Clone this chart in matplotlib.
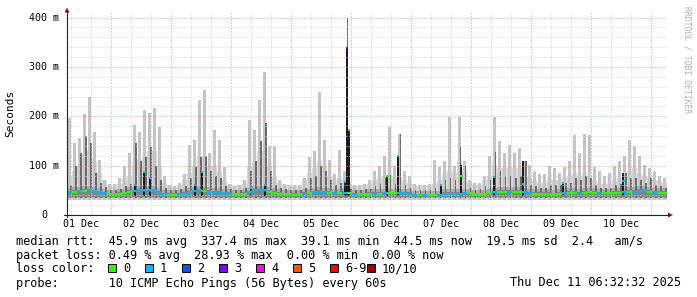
import numpy as np
import matplotlib
matplotlib.use('Agg')
import matplotlib.pyplot as plt
from matplotlib.patches import Rectangle, Polygon
from matplotlib.lines import Line2D
from matplotlib.transforms import blended_transform_factory

# smokeping 10 day view, 2h bins starting 01 Dec 06:32:32, one row per day
med_ms = [
    46, 47, 48, 49, 50, 48, 46, 44, 42, 42, 43, 44,
    47, 48, 49, 50, 50, 49, 45, 42, 41, 41, 42, 43,
    45, 48, 50, 49, 47, 46, 45, 44, 43, 42, 42, 43,
    46, 49, 50, 50, 47, 45, 43, 42, 42, 41, 42, 43,
    44, 46, 47, 46, 45, 44, 44, 45, 44, 42, 42, 42,
    43, 43, 43, 44, 45, 44, 44, 44, 43, 40, 40, 40,
    40, 40, 40, 43, 43, 43, 43, 44, 44, 42, 42, 42,
    44, 46, 47, 47, 47, 47, 47, 46, 44, 43, 43, 43,
    43, 42, 43, 44, 45, 45, 44, 45, 46, 45, 44, 44,
    44, 45, 45, 46, 47, 47, 49, 49, 47, 46, 45, 45,
]
loss_n = [
    1, 0, 1, 0, 1, 1, 1, 1, 0, 0, 0, 0,
    0, 1, 1, 1, 1, 1, 1, 1, 0, 0, 1, 1,
    1, 1, 1, 0, 1, 1, 1, 1, 1, 0, 0, 0,
    1, 1, 1, 1, 0, 0, 0, 0, 0, 0, 0, 1,
    0, 1, 1, 1, 0, 1, 0, 1, 0, 1, 0, 0,
    0, 1, 0, 1, 0, 0, 1, 1, 1, 1, 0, 1,
    0, 0, 1, 1, 1, 1, 1, 1, 0, 0, 0, 0,
    0, 1, 0, 0, 1, 0, 0, 1, 1, 0, 0, 0,
    0, 0, 0, 1, 0, 0, 1, 0, 0, 0, 1, 0,
    0, 0, 0, 1, 0, 1, 1, 1, 0, 1, 0, 0,
]
# top of the dense light smoke
band_ms = [
    80, 90, 100, 120, 130, 110, 85, 70, 58, 57, 62, 75,
    80, 100, 110, 120, 130, 130, 100, 65, 58, 57, 60, 70,
    85, 100, 120, 120, 100, 100, 90, 70, 60, 58, 60, 65,
    100, 110, 130, 130, 100, 80, 65, 60, 58, 58, 58, 70,
    85, 95, 110, 100, 80, 70, 75, 70, 60, 58, 58, 60,
    62, 70, 75, 80, 80, 75, 75, 70, 65, 58, 58, 58,
    58, 62, 70, 85, 90, 85, 110, 90, 65, 60, 60, 70,
    80, 100, 95, 95, 98, 95, 95, 85, 75, 70, 65, 65,
    70, 70, 70, 75, 80, 85, 80, 85, 80, 70, 65, 62,
    65, 70, 75, 80, 90, 95, 85, 80, 75, 70, 68, 65,
]
# highest single ping in the bin
peak_ms = [
    196, 145, 155, 205, 240, 169, 111, 71, 62, 62, 75, 100,
    125, 182, 169, 213, 206, 216, 179, 80, 60, 58, 65, 84,
    142, 152, 233, 253, 125, 172, 152, 98, 62, 58, 60, 70,
    192, 172, 233, 290, 139, 139, 70, 62, 60, 60, 60, 75,
    118, 130, 250, 152, 111, 84, 132, 90, 65, 60, 60, 62,
    70, 90, 100, 120, 179, 100, 165, 90, 80, 62, 60, 60,
    62, 111, 98, 110, 199, 100, 199, 110, 70, 65, 65, 80,
    120, 199, 150, 125, 142, 125, 135, 109, 101, 90, 84, 84,
    100, 95, 85, 98, 110, 162, 125, 165, 162, 98, 90, 80,
    85, 100, 110, 120, 152, 140, 120, 101, 95, 90, 80, 75,
]
# top of the darker inner smoke
dark_ms = [
    60, 100, 125, 160, 145, 85, 65, 56, 50, 50, 52, 58,
    62, 145, 110, 118, 138, 100, 70, 55, 50, 50, 52, 58,
    75, 98, 118, 120, 90, 80, 75, 58, 52, 50, 50, 55,
    90, 110, 150, 186, 90, 60, 55, 52, 50, 50, 50, 55,
    75, 80, 100, 90, 70, 60, 65, 60, 52, 50, 50, 52,
    52, 58, 62, 75, 81, 62, 165, 60, 55, 50, 50, 50,
    50, 55, 60, 70, 75, 70, 138, 100, 55, 50, 52, 58,
    70, 128, 90, 80, 80, 75, 80, 109, 60, 58, 55, 55,
    60, 60, 60, 64, 65, 75, 70, 80, 75, 60, 55, 55,
    55, 60, 62, 85, 75, 75, 70, 65, 75, 60, 58, 55,
]

# narrow black spikes with the median on top (hours since 01 Dec 00:00)
spike_h = [33.7, 37.5, 39.7, 57.7, 60.5, 80.1, 85.7, 117.6, 118.45, 119.3,
           134.7, 139.0, 156.1, 164.3, 177.3, 188.8, 204.9, 229.1]
spike_top = [60, 87, 74, 60, 87, 55, 60, 67, 338, 172,
             81, 120, 60, 101, 78, 109, 64, 85]
spike_med = [60, 87, 74, 60, 87, 55, 60, 67, 338, 172,
             80, 120, 60, 80, 78, 62, 64, 68]
spike_loss = [1, 1, 1, 1, 1, 1, 1, 1, 3, 0,
              0, 1, 1, 0, 1, 1, 1, 1]
tall_h = [118.7]
tall_ms = [400]

day_labels = ['01 Dec', '02 Dec', '03 Dec', '04 Dec', '05 Dec',
              '06 Dec', '07 Dec', '08 Dec', '09 Dec', '10 Dec']
y_ticks = [0, 100, 200, 300, 400]
y_tick_labels = ['0', '100 m', '200 m', '300 m', '400 m']

loss_labels = ['0', '1', '2', '3', '4', '5', '6-9', '10/10']
loss_colors = ['#26ff00', '#00b8ff', '#0059ff', '#7e00ff',
               '#ff00ff', '#ff5500', '#ff0000', '#a10000']

floor_ms = 31
t0 = 6 + 32 / 60 + 32 / 3600
bin_h = 2

W, H = 697, 297
def fx(x):
    return x / W
def fy(y):
    return 1 - y / H

mono = 'DejaVu Sans Mono'
fig = plt.figure(figsize=(W / 100, H / 100), dpi=100)
fig.patch.set_facecolor('white')
ax = fig.add_axes([fx(67), fy(215), 600 / W, 203 / H])
ax.set_xlim(t0, t0 + 240)
ax.set_ylim(0, 411.3)
ax.axis('off')

n = len(med_ms)
left = t0 + bin_h * np.arange(n)
center = left + bin_h / 2
med = np.array(med_ms)

# smoke
ax.bar(left, np.array(band_ms) - floor_ms, bottom=floor_ms, width=bin_h,
       align='edge', color='#d8d8d8', linewidth=0, zorder=1)
ax.bar(center, np.array(peak_ms) - floor_ms, bottom=floor_ms, width=bin_h * 0.55,
       color='#c4c4c4', linewidth=0, zorder=1.2)
ax.bar(center + 0.5, np.array(dark_ms) - 35, bottom=35, width=bin_h * 0.3,
       color='#6a6a6a', linewidth=0, zorder=1.5)
ax.bar(left, med + 9 - 34, bottom=34, width=bin_h, align='edge',
       color='#ababab', linewidth=0, zorder=1.4)
ax.bar(left, med + 3 - 37, bottom=37, width=bin_h, align='edge',
       color='#838383', linewidth=0, zorder=1.6)
ax.bar(tall_h, np.array(tall_ms) - 40, bottom=40, width=0.45,
       color='#6e6e6e', linewidth=0, zorder=2)
ax.bar(spike_h, np.array(spike_top) - 38, bottom=38, width=0.8,
       color='#1c1c1c', linewidth=0, zorder=2.2)

# grid on top of the smoke
minor_kw = dict(color='#cfcfcf', lw=0.72, dashes=(1, 2), zorder=3)
major_kw = dict(color='#e39090', lw=0.72, dashes=(1, 2), zorder=3.1)
for v in range(20, 401, 20):
    ax.axhline(v, **(major_kw if v % 100 == 0 else minor_kw))
for h in range(8, 247, 8):
    if h < t0:
        continue
    ax.axvline(h, **(major_kw if h % 24 == 0 else minor_kw))

# median coloured by loss
ax.hlines(med, left, left + bin_h, colors=[loss_colors[i] for i in loss_n],
          lw=1.5, zorder=4)
ax.hlines(spike_med, np.array(spike_h) - 0.45, np.array(spike_h) + 0.45,
          colors=[loss_colors[i] for i in spike_loss], lw=1.5, zorder=4.2)

# axes, arrows
fig.add_artist(Line2D([fx(67), fx(67)], [fy(217), fy(11)], color='#222222', lw=0.8))
fig.add_artist(Line2D([fx(64), fx(669)], [fy(215), fy(215)], color='#222222', lw=0.8))
fig.add_artist(Polygon([(fx(64.5), fy(12.5)), (fx(69.5), fy(12.5)), (fx(67), fy(7.5))],
                       closed=True, color='#8b1c1c', lw=0))
fig.add_artist(Polygon([(fx(668), fy(212.5)), (fx(668), fy(217.5)), (fx(673), fy(215))],
                       closed=True, color='#8b1c1c', lw=0))

ytr = blended_transform_factory(fig.transFigure, ax.transData)
for v, lab in zip(y_ticks, y_tick_labels):
    ax.text(fx(44), v, lab, transform=ytr, ha='center', va='center',
            family=mono, fontsize=7.2)
xtr = blended_transform_factory(ax.transData, fig.transFigure)
for i, lab in enumerate(day_labels):
    ax.text(12 + 24 * i, fy(224), lab, transform=xtr, ha='center', va='center',
            family=mono, fontsize=7.2)

fig.text(fx(10), fy(113), 'Seconds', rotation=90, ha='center', va='center',
         family=mono, fontsize=8)
fig.text(fx(687), fy(60), 'RRDTOOL / TOBI OETIKER', rotation=-90, ha='center',
         va='center', family=mono, fontsize=5.8, color='#b0b0b0')

rows = [
    'median rtt:  45.9 ms avg  337.4 ms max  39.1 ms min  44.5 ms now  19.5 ms sd  2.4   am/s',
    'packet loss: 0.49 % avg  28.93 % max  0.00 % min  0.00 % now',
    'loss color:',
    'probe:       10 ICMP Echo Pings (56 Bytes) every 60s',
]
for i, r in enumerate(rows):
    fig.text(fx(16), fy(241 + 14 * i), r, ha='left', va='center',
             family=mono, fontsize=8.55)
fig.text(fx(681), fy(283), 'Thu Dec 11 06:32:32 2025', ha='right', va='center',
         family=mono, fontsize=8.55)

for i, (lab, c) in enumerate(zip(loss_labels, loss_colors)):
    bx = 108 + 37 * i
    fig.add_artist(Rectangle((fx(bx), fy(271.5)), 8 / W, 8 / H, facecolor=c,
                             edgecolor='black', lw=0.7))
    fig.text(fx(bx + 15), fy(269), lab, ha='left', va='center',
             family=mono, fontsize=8.55)

fig.savefig('out.png', dpi=100)
